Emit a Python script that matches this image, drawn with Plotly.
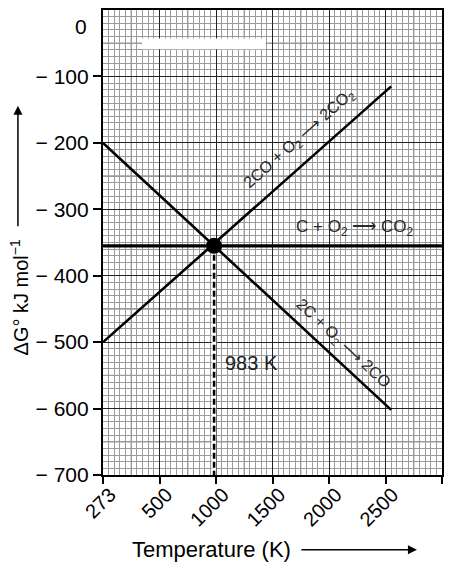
import numpy as np
import plotly.graph_objects as go

# axis ticks (temperature axis is drawn with equal spacing between labels)
tick_temps = [273, 500, 1000, 1500, 2000, 2500, 3000]
tick_text = ["273", "500", "1000", "1500", "2000", "2500", ""]
g_ticks = [-100, -200, -300, -400, -500, -600, -700]
g_tick_text = ["\u2212 100", "\u2212 200", "\u2212 300", "\u2212 400",
               "\u2212 500", "\u2212 600", "\u2212 700"]

# reaction lines (K, kJ/mol)
co_to_co2_T = [273, 2550]
co_to_co2_G = [-500, -115]
c_to_co_T = [273, 2550]
c_to_co_G = [-200, -602]
c_to_co2_T = [273, 3000]
c_to_co2_G = [-355, -355]

cross_T = 983
cross_G = -355

FONT = "Liberation Sans, Arial, sans-serif"
ARROW = "\u27f6"


def pos(t):
    # place temperatures on the evenly spaced tick scale
    return np.interp(t, tick_temps, np.arange(len(tick_temps)))


fig = go.Figure()

line_style = dict(color="black", width=2.6)
fig.add_trace(go.Scatter(x=pos(c_to_co_T), y=c_to_co_G, mode="lines", line=line_style))
fig.add_trace(go.Scatter(x=pos(co_to_co2_T), y=co_to_co2_G, mode="lines", line=line_style))
fig.add_trace(go.Scatter(x=pos(c_to_co2_T), y=c_to_co2_G, mode="lines",
                         line=dict(color="black", width=3.2)))

# dashed drop line to 983 K
drop_x = pos([cross_T, cross_T])
drop_y = [cross_G, -700]
fig.add_trace(go.Scatter(x=drop_x, y=drop_y, mode="lines",
                         line=dict(color="white", width=4.5)))
fig.add_trace(go.Scatter(x=drop_x, y=drop_y, mode="lines",
                         line=dict(color="black", width=2.6, dash="6px,3px")))

fig.add_trace(go.Scatter(x=pos([cross_T]), y=[cross_G], mode="markers",
                         marker=dict(color="black", size=16)))

# medium graph-paper lines halfway between the labelled ones
shapes = []
for i in range(len(tick_temps) - 1):
    shapes.append(dict(type="line", xref="x", yref="paper", x0=i + 0.5, x1=i + 0.5,
                       y0=0, y1=1, layer="between", line=dict(color="#555", width=1)))
for g in range(-50, -700, -100):
    shapes.append(dict(type="line", xref="paper", yref="y", x0=0, x1=1, y0=g, y1=g,
                       layer="between", line=dict(color="#555", width=1)))
# blanked-out strip near the top
shapes.append(dict(type="rect", xref="x", yref="y", x0=0.69, x1=2.88, y0=-59, y1=-43,
                   fillcolor="white", line=dict(width=0), layer="above"))

lab_font = dict(family=FONT, size=16, color="#2a2a2a")
annotations = [
    dict(x=3.48, y=-194, text="2CO + O<sub>2</sub> " + ARROW + " 2CO<sub>2</sub>",
         showarrow=False, textangle=-41.6, font=lab_font),
    dict(x=4.45, y=-328, text="C + O<sub>2</sub> " + ARROW + " CO<sub>2</sub>",
         showarrow=False, font=dict(family=FONT, size=17, color="#2a2a2a")),
    dict(x=4.24, y=-502, text="2C + O<sub>2</sub> " + ARROW + " 2CO", showarrow=False,
         textangle=43, font=lab_font),
    dict(x=2.63, y=-532, text="983 K", showarrow=False,
         font=dict(family=FONT, size=20, color="#222")),
    dict(x=0, xref="paper", xshift=-14, y=-25, yref="y", text="0", showarrow=False,
         xanchor="right", yanchor="middle", font=dict(family=FONT, size=21, color="black")),
    # axis titles and arrows
    dict(x=0.319, y=-0.161, xref="paper", yref="paper", text="Temperature (K)",
         xanchor="center", yanchor="middle",
         showarrow=False, font=dict(family=FONT, size=22, color="black")),
    dict(x=0.926, y=-0.161, xref="paper", yref="paper", text="", showarrow=True,
         ax=-117, ay=0, arrowhead=2, arrowsize=1.2, arrowwidth=1.5, arrowcolor="black"),
    dict(x=-0.246, y=0.381, xref="paper", yref="paper",
         text="\u0394G\u00b0 kJ mol<sup>\u22121</sup>", textangle=-90,
         xanchor="center", yanchor="middle",
         showarrow=False, font=dict(family=FONT, size=20, color="black")),
    dict(x=-0.251, y=0.794, xref="paper", yref="paper", text="", showarrow=True,
         ax=0, ay=122, arrowhead=2, arrowsize=1.2, arrowwidth=1.5, arrowcolor="black"),
]

fig.update_layout(
    width=457,
    height=571,
    margin=dict(l=95, r=23, t=2, b=104, autoexpand=False),
    paper_bgcolor="white",
    plot_bgcolor="white",
    showlegend=False,
    shapes=shapes,
    annotations=annotations,
    font=dict(family=FONT, color="black"),
)
fig.update_xaxes(
    range=[0, len(tick_temps) - 1],
    tickvals=list(range(len(tick_temps))),
    ticktext=tick_text,
    tickangle=-45,
    tickfont=dict(size=20),
    ticklabelstandoff=-9,
    ticklabelshift=7,
    ticks="outside", ticklen=7, tickwidth=1.5, tickcolor="black",
    showline=True, linewidth=2.2, linecolor="black", mirror=True,
    showgrid=True, gridcolor="#222", gridwidth=1.3,
    minor=dict(dtick=0.1, showgrid=True, gridcolor="#9a9a9a", gridwidth=0.8),
    zeroline=False, automargin=False,
)
fig.update_yaxes(
    range=[-700, 0],
    tickvals=g_ticks,
    ticktext=g_tick_text,
    tickfont=dict(size=21),
    ticks="outside", ticklen=8, tickwidth=1.5, tickcolor="black",
    showline=True, linewidth=2.2, linecolor="black", mirror=True,
    showgrid=True, gridcolor="#222", gridwidth=1.3,
    minor=dict(dtick=10, showgrid=True, gridcolor="#9a9a9a", gridwidth=0.8),
    zeroline=False, automargin=False,
)

fig.write_html("out.html")
